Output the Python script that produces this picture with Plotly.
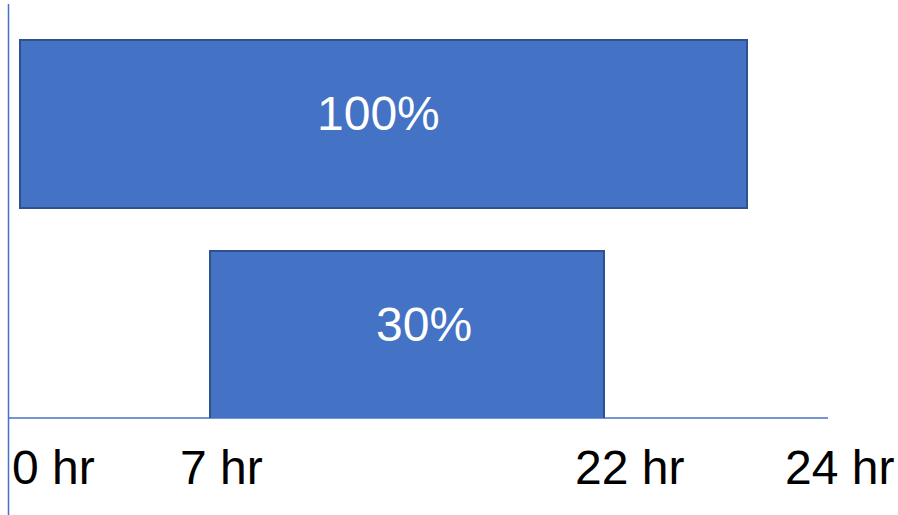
import plotly.graph_objects as go

# ---- data (hours, as drawn) ----
rows = ["full", "partial"]          # top bar, bottom bar
start_hr = [0, 7]
end_hr = [26.8, 21.5]
bar_labels = ["100%", "30%"]
label_hr = [13.2, 14.9]             # where each % label sits along the bar

tick_text = ["0 hr", "7 hr", "22 hr", "24 hr"]
tick_hr = [1.25, 7.42, 22.46, 30.18]

# ---- style ----
FILL = "#4472C4"
EDGE = "#2F528F"
AXIS = "#4472C4"
FONT = "Liberation Sans, Arial, sans-serif"

W, H = 898, 515
PX_PER_HR = 27.14
X0_PX = 20
PLOT_BOTTOM = 418

xr = [-X0_PX / PX_PER_HR, (W - X0_PX) / PX_PER_HR]

durations = [e - s for s, e in zip(start_hr, end_hr)]

fig = go.Figure()
fig.add_trace(go.Bar(
    y=rows, x=durations, base=start_hr, orientation="h",
    width=0.796,
    marker=dict(color=FILL, line=dict(color=EDGE, width=2)),
    hoverinfo="skip", showlegend=False,
))

annotations = []
for r, lab, lx in zip(rows, bar_labels, label_hr):
    annotations.append(dict(
        x=lx, y=r, xref="x", yref="y", text=lab, showarrow=False,
        font=dict(family=FONT, size=48, color="white"),
        xanchor="center", yanchor="middle", yshift=11,
    ))
for t, tx in zip(tick_text, tick_hr):
    annotations.append(dict(
        x=tx, y=0, xref="x", yref="paper", text=t, showarrow=False,
        font=dict(family=FONT, size=48, color="black"),
        xanchor="center", yanchor="middle", yshift=-(467 - PLOT_BOTTOM),
    ))

shapes = [
    dict(type="line", xref="paper", yref="paper",
         x0=8 / W, x1=828 / W, y0=0, y1=0,
         line=dict(color=AXIS, width=1.5), layer="below"),
    dict(type="line", xref="paper", yref="paper",
         x0=8.5 / W, x1=8.5 / W,
         y0=(PLOT_BOTTOM - 4) / PLOT_BOTTOM, y1=(PLOT_BOTTOM - 515) / PLOT_BOTTOM,
         line=dict(color=AXIS, width=1.5), layer="below"),
]

fig.update_layout(
    width=W, height=H,
    margin=dict(l=0, r=0, t=0, b=H - PLOT_BOTTOM, pad=0),
    paper_bgcolor="white", plot_bgcolor="white",
    xaxis=dict(range=xr, visible=False, fixedrange=True),
    yaxis=dict(type="category", categoryorder="array",
               categoryarray=["partial", "full"],
               range=[-83 / 211, 335 / 211], visible=False, fixedrange=True),
    annotations=annotations, shapes=shapes,
    bargap=0,
)

fig.write_html("out.html", config={"displayModeBar": False})
